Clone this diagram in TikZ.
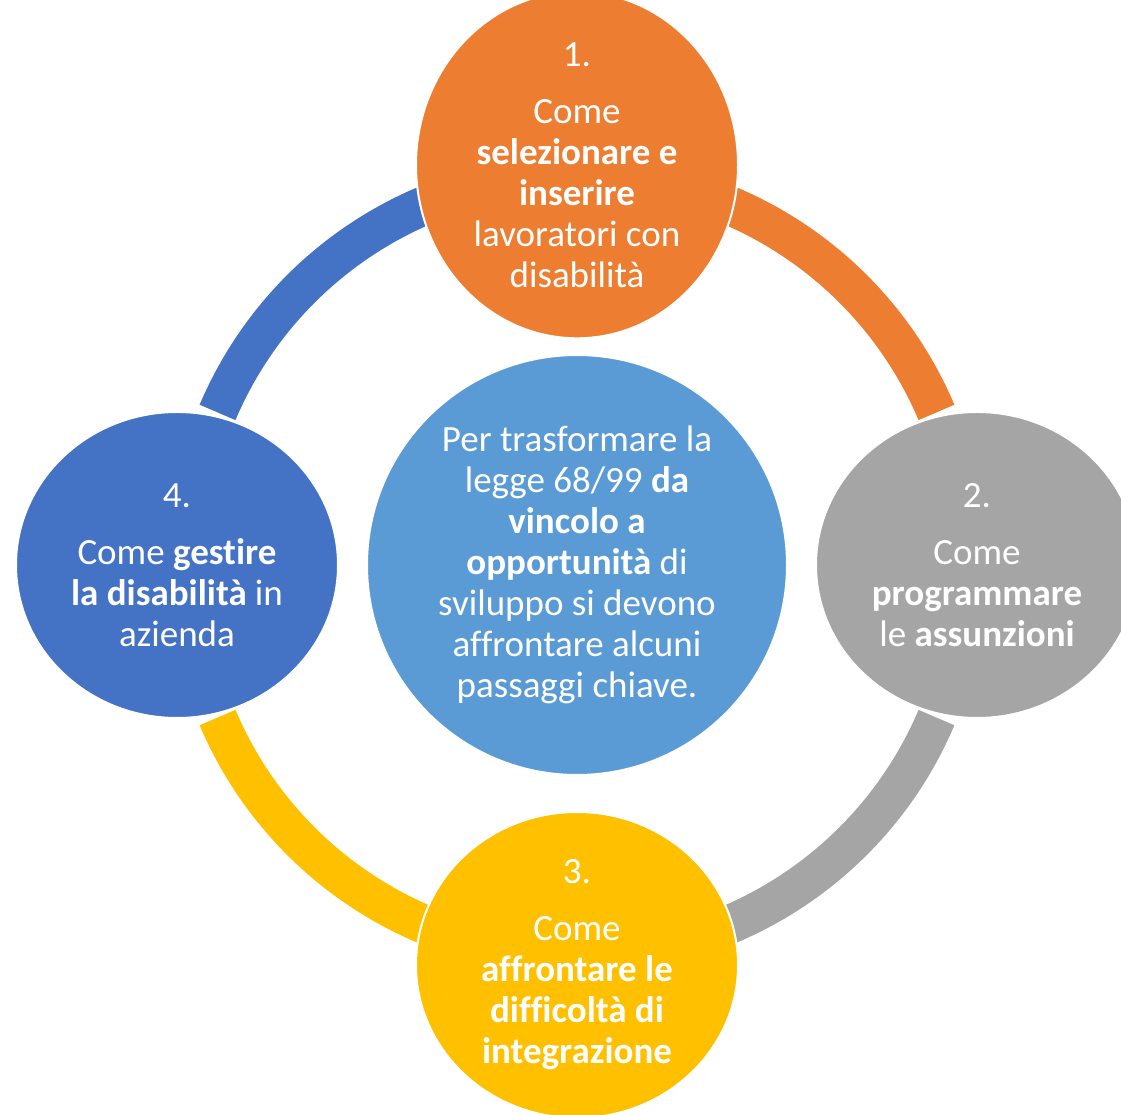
\documentclass[tikz,border=0pt]{standalone}
\usepackage{fontspec}
\setmainfont{Carlito}[Ligatures=NoCommon]
\usetikzlibrary{shapes.geometric}

\definecolor{orangeA}{HTML}{ED7D31}
\definecolor{greyA}{HTML}{A5A5A5}
\definecolor{yellowA}{HTML}{FFC000}
\definecolor{blueA}{HTML}{4472C4}
\definecolor{blueB}{HTML}{5B9BD5}

\begin{document}
\begin{tikzpicture}[x=1pt, y=1pt,
        seg/.style={line width=39pt},
        bubble/.style={ellipse, minimum width=322pt, minimum height=306pt, inner sep=0pt,
            draw=white, line width=2pt, text=white, align=center,
            font=\fontsize{37}{41}\selectfont},
        hub/.style={bubble, circle, minimum size=420pt}
    ]
        \clip (0,0) rectangle (1121,1114);
        \coordinate (ring) at (577,549);

        \draw[seg, orangeA] (ring) ++(90:390.5) arc[start angle=90, end angle=23, radius=390.5pt];
        \draw[seg, greyA] (ring) ++(-23:390.5) arc[start angle=-23, end angle=-90, radius=390.5pt];
        \draw[seg, yellowA] (ring) ++(270:390.5) arc[start angle=270, end angle=203, radius=390.5pt];
        \draw[seg, blueA] (ring) ++(157:390.5) arc[start angle=157, end angle=90, radius=390.5pt];

        \node[bubble, fill=orangeA] (s1) at (577,949) {1.\\[16pt] Come\\ \textbf{selezionare e}\\ \textbf{inserire}\\ lavoratori con\\ disabilità};
        \node[bubble, fill=greyA] (s2) at (977,549) {2.\\[16pt] Come\\ \textbf{programmare}\\ le \textbf{assunzioni}};
        \node[bubble, fill=yellowA] (s3) at (577,149) {3.\\[16pt] Come\\ \textbf{affrontare le}\\ \textbf{difficoltà di}\\ \textbf{integrazione}};
        \node[bubble, fill=blueA] (s4) at (177,549) {4.\\[16pt] Come \textbf{gestire}\\ \textbf{la disabilità} in\\ azienda};

        \node[hub, fill=blueB] (hub) at (ring) {Per trasformare la\\ legge 68/99 \textbf{da}\\ \textbf{vincolo a}\\ \textbf{opportunità} di\\ sviluppo si devono\\ affrontare alcuni\\ passaggi chiave.};
    \end{tikzpicture}
\end{document}
